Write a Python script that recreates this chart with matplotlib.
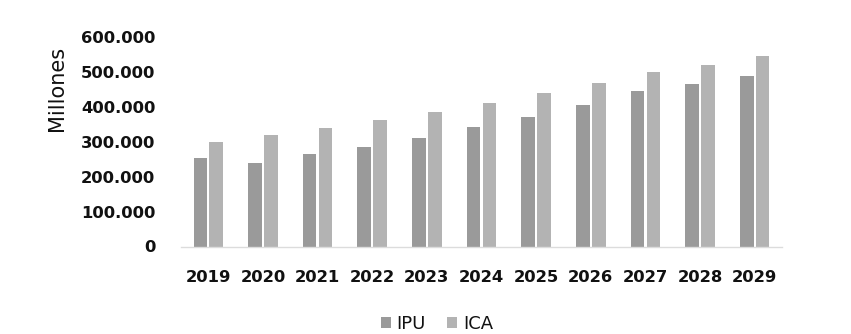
import matplotlib
matplotlib.use("Agg")
import matplotlib.pyplot as plt
import numpy as np
from matplotlib.ticker import FuncFormatter, MultipleLocator

years = ["2019", "2020", "2021", "2022", "2023", "2024", "2025", "2026", "2027", "2028", "2029"]
ipu = [253000, 238000, 264000, 285000, 310000, 341000, 371000, 404000, 446000, 466000, 487000]
ica = [298000, 319000, 338000, 361000, 385000, 409000, 438000, 467000, 498000, 519000, 545000]

IPU_COLOR = "#9a9a9a"
ICA_COLOR = "#b3b3b3"

fig = plt.figure(figsize=(8.51, 3.34), dpi=100)
ax = fig.add_axes([181/851, 1 - 246.5/334, 601/851, (246.5 - 36.7)/334])

x = np.arange(len(years))
w = 0.25
ax.bar(x - 0.145, ipu, width=w, color=IPU_COLOR, label="IPU", zorder=2)
ax.bar(x + 0.145, ica, width=w, color=ICA_COLOR, label="ICA", zorder=2)

ax.set_xlim(-0.5, len(years) - 0.5)
ax.set_ylim(0, 600000)
ax.yaxis.set_major_locator(MultipleLocator(100000))
ax.yaxis.set_major_formatter(FuncFormatter(lambda v, p: f"{int(v):,}".replace(",", ".")))
ax.set_xticks(x)
ax.set_xticklabels(years)

for s in ["top", "right", "left"]:
    ax.spines[s].set_visible(False)
ax.spines["bottom"].set_color("#dcdcdc")
ax.spines["bottom"].set_linewidth(1.0)

ax.tick_params(axis="both", length=0)
ax.tick_params(axis="y", pad=18.5, labelsize=11.8)
ax.tick_params(axis="x", pad=17, labelsize=11.8)
for lab in ax.get_xticklabels() + ax.get_yticklabels():
    lab.set_fontweight("bold")
    lab.set_color("#111111")

ax.set_ylabel("Millones", fontsize=15, color="#111111", fontweight="medium")
ax.yaxis.set_label_coords(-0.19, 0.753)

fig.legend(loc="center", bbox_to_anchor=(437/851, 1 - 324/334), ncol=2, frameon=False,
           fontsize=13, handlelength=0.55, handleheight=0.55, handletextpad=0.3,
           columnspacing=1.2, labelcolor="#111111")

fig.savefig("out.png", dpi=100, facecolor="white")
